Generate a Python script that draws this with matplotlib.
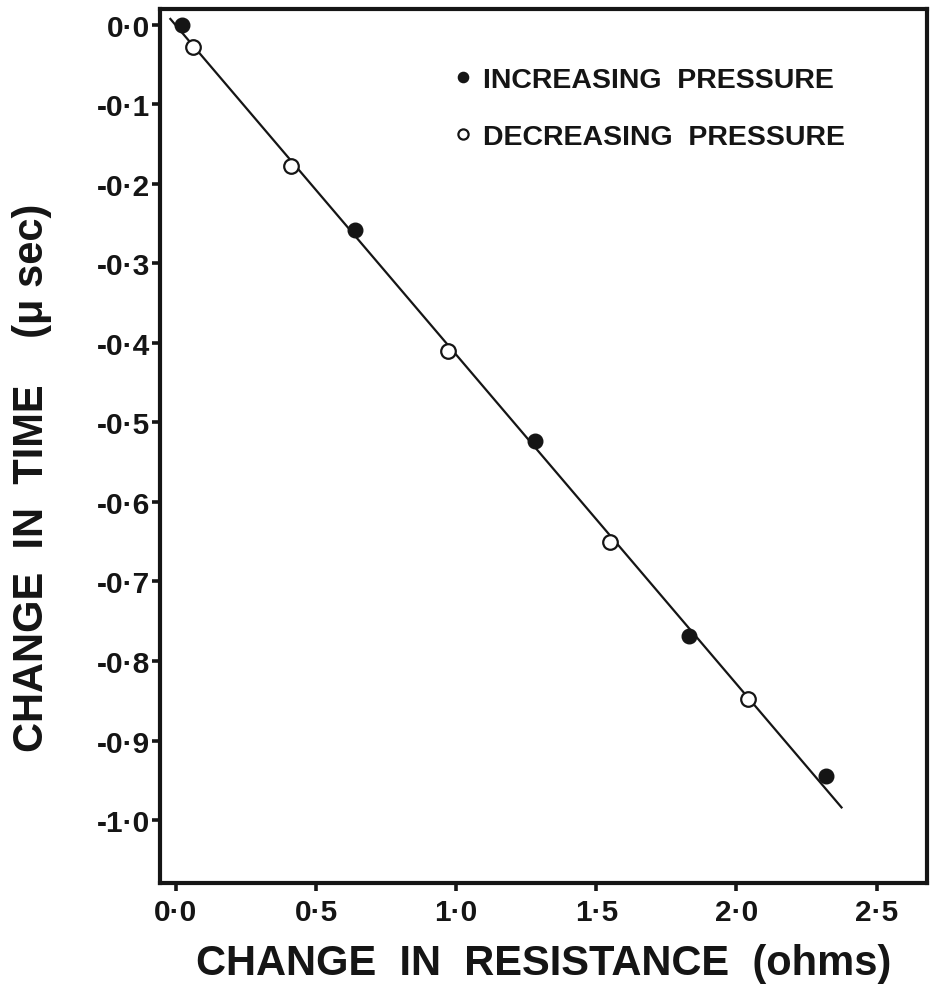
import matplotlib
matplotlib.use("Agg")
import matplotlib.pyplot as plt

# Data
inc_x = [0.02, 0.64, 1.28, 1.83, 2.32]
inc_y = [0.00, -0.258, -0.523, -0.768, -0.945]
dec_x = [0.06, 0.41, 0.97, 1.55, 2.04]
dec_y = [-0.028, -0.178, -0.41, -0.65, -0.848]
fit_x = [-0.02, 2.375]
fit_y = [0.007, -0.984]

xticks = [0.0, 0.5, 1.0, 1.5, 2.0, 2.5]
xticklabels = ["0·0", "0·5", "1·0", "1·5", "2·0", "2·5"]
yticks = [0.0, -0.1, -0.2, -0.3, -0.4, -0.5, -0.6, -0.7, -0.8, -0.9, -1.0]
yticklabels = ["0·0", "-0·1", "-0·2", "-0·3", "-0·4", "-0·5", "-0·6", "-0·7", "-0·8", "-0·9", "-1·0"]

FONT = ["Liberation Sans", "DejaVu Sans"]
INK = "#151515"
plt.rcParams["font.family"] = FONT

W, H = 933, 995
L, R, T, B = 160, 927, 10, 884
fig = plt.figure(figsize=(W / 100, H / 100), dpi=100)
fig.patch.set_facecolor("white")
ax = fig.add_axes([L / W, 1 - B / H, (R - L) / W, (B - T) / H])

ax.plot(fit_x, fit_y, color=INK, lw=1.6, zorder=2)
ax.plot(inc_x, inc_y, "o", ms=10.5, color=INK, mec=INK, zorder=3,
        label="INCREASING  PRESSURE")
ax.plot(dec_x, dec_y, "o", ms=10.5, mfc="white", mec=INK, mew=1.6, zorder=3,
        label="DECREASING  PRESSURE")

ax.set_xlim(-0.057, 2.68)
ax.set_ylim(-1.079, 0.0195)
ax.set_xticks(xticks)
ax.set_xticklabels(xticklabels)
ax.set_yticks(yticks)
ax.set_yticklabels(yticklabels)

for s in ax.spines.values():
    s.set_linewidth(3.0)
    s.set_color(INK)
ax.tick_params(axis="both", direction="out", length=6, width=2.6, color=INK,
               labelcolor=INK, labelsize=21.5)
ax.tick_params(axis="y", pad=1)
ax.tick_params(axis="x", pad=5)
for lab in ax.get_xticklabels() + ax.get_yticklabels():
    lab.set_fontweight("bold")

ax.set_xlabel("CHANGE  IN  RESISTANCE  (ohms)", fontsize=30, fontweight="bold",
              color=INK, labelpad=12)
ax.set_ylabel("CHANGE  IN  TIME    (μ sec)", fontsize=30, fontweight="bold",
              color=INK)
ax.yaxis.set_label_coords((52 - L) / (R - L), (B - 478) / (B - T))

leg = ax.legend(loc="upper left",
                bbox_to_anchor=((456 - L) / (R - L), 1 - (68 - T) / (B - T)),
                frameon=False, handlelength=0.5, handletextpad=0.45, labelspacing=1.1,
                markerscale=0.7, borderpad=0, borderaxespad=0,
                prop={"family": FONT, "weight": "bold", "size": 20.5})
for t in leg.get_texts():
    t.set_color(INK)

fig.savefig("out.png", dpi=100, facecolor="white")
